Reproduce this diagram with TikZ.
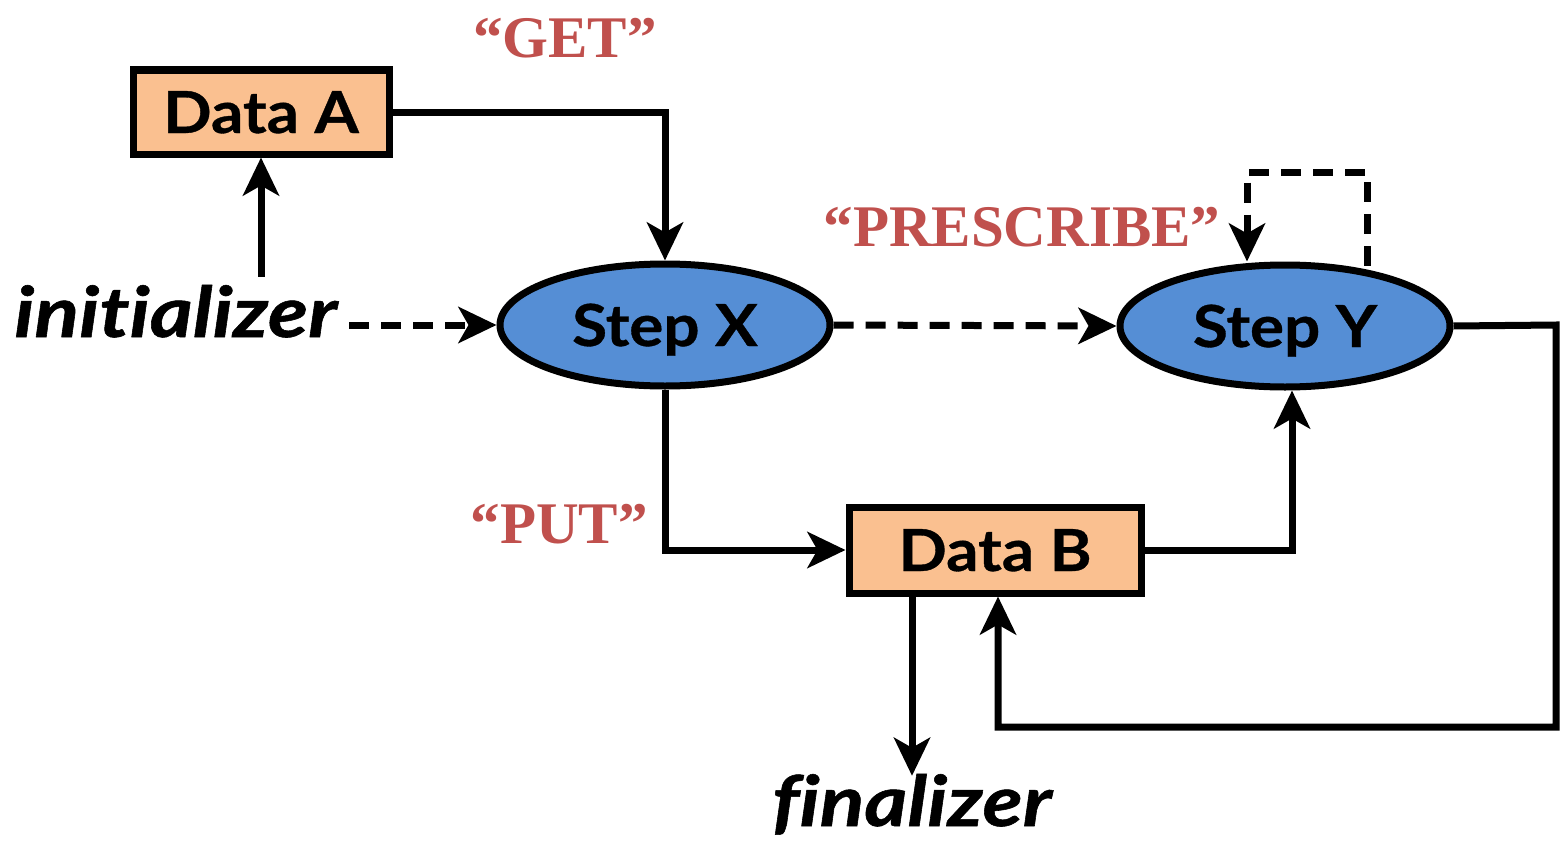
\documentclass[tikz,border=0pt]{standalone}
\usepackage{fontspec}
\setmainfont{Liberation Serif}
\newfontfamily\labelsans[Ligatures=NoCommon,FakeStretch=1.1,FakeBold=0.6]{Lato}
\newfontfamily\endsans[Ligatures=NoCommon,FakeStretch=1.18,FakeBold=0.8]{Lato}
\usetikzlibrary{shapes.geometric,arrows.meta,calc}
\definecolor{stepblue}{HTML}{558ED5}
\definecolor{datafill}{HTML}{FAC090}
\definecolor{labelred}{HTML}{C0504D}
\tikzset{
  big/.style={font=\labelsans\fontsize{58}{70}\selectfont\bfseries},
  databox/.style={big,draw,line width=7pt,fill=datafill,text height=42pt,text depth=0pt},
  stepnode/.style={big,draw,ellipse,line width=7pt,fill=stepblue,inner sep=0pt,
                   minimum width=330pt,minimum height=122pt,text height=42pt,text depth=0pt},
  endpoint/.style={font=\endsans\fontsize{70}{82}\selectfont\bfseries\itshape,inner sep=0pt},
  callword/.style={font=\fontsize{59}{70}\selectfont\bfseries,text=labelred,inner sep=0pt},
  conn/.style={line width=7pt,-{Stealth[length=38pt,width=36pt,inset=10pt]}},
  dashconn/.style={conn,dash pattern=on 20pt off 12pt}
}
\begin{document}
\begin{tikzpicture}[x=1pt,y=-1pt]
  \useasboundingbox (0,0) rectangle (1560,843);

  % data stores
  \node[databox,minimum width=256pt,minimum height=84pt] (dA) at (261,112) {Data A};
  \node[databox,minimum width=292pt,minimum height=86pt] (dB) at (995,550) {Data B};

  % steps
  \node[stepnode] (sx) at (665,325) {Step X};
  \node[stepnode] (sy) at (1285,326) {Step Y};

  % environment endpoints
  \node[endpoint,anchor=base west] (ini) at (14,337) {initializer};
  \node[endpoint,anchor=base] (fin) at (912,826) {finalizer};

  % relation labels
  \node[callword,anchor=base] (lget) at (565,57) {``GET''};
  \node[callword,anchor=base] (lpre) at (1022,246) {``PRESCRIBE''};
  \node[callword,anchor=base] (lput) at (559,543) {``PUT''};

  % loop corners
  \coordinate (lp1) at (1367,172);
  \coordinate (lp2) at (1247,172);
  \coordinate (r1) at (1556,325);
  \coordinate (r2) at (1556,727);

  % solid connectors
  \draw[conn] ([yshift=8pt]ini.north -| dA.south) -- (dA.south);
  \draw[conn] (dA.east) -| (sx.north);
  \draw[conn] (sx.south) |- (dB.west);
  \draw[conn] (dB.east) -| ([xshift=7pt]sy.south);
  \draw[conn] (sy.east) -- (r1) -- (r2) -| ([xshift=3pt]dB.south);
  \draw[conn] (fin.north |- dB.south) -- ([yshift=-2pt]fin.north);

  % dashed (control) connectors
  \draw[dashconn,shorten <=12pt] (ini.east |- sx.west) -- (sx.west);
  \draw[dashconn] (sx.east) -- (sy.west);
  \draw[dashconn] ([yshift=-4pt]lp1 |- sy.north) -- (lp1) -- (lp2) -- (lp2 |- sy.north);
\end{tikzpicture}
\end{document}
